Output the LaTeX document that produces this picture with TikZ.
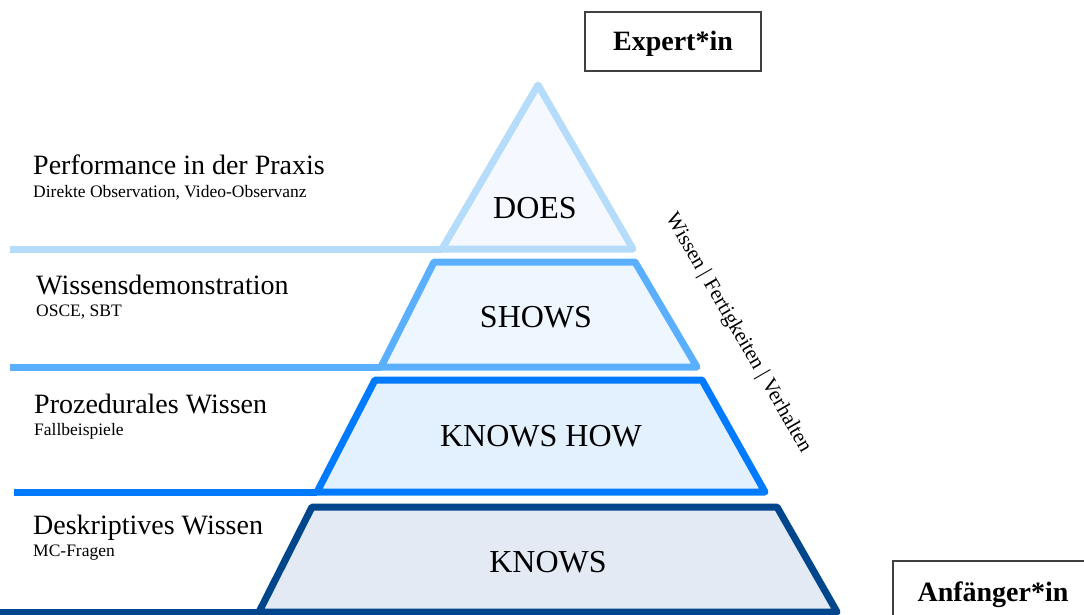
\documentclass[tikz,border=0pt]{standalone}
\usepackage{fontspec}
\setmainfont{Liberation Serif}
\begin{document}
\begin{tikzpicture}[x=1pt,y=-1pt,
  level/.style={line width=7pt,line join=round,line cap=round},
  rule/.style={line width=7pt,line cap=butt},
  head/.style={anchor=base west,inner sep=0pt,font=\fontsize{28}{30}\selectfont},
  sub/.style={anchor=base west,inner sep=0pt,font=\fontsize{17.5}{19}\selectfont},
  tier/.style={anchor=base,inner sep=0pt,font=\fontsize{32}{34}\selectfont},
  tagbox/.style={draw=black!75,line width=1.3pt,inner sep=0pt,text height=19pt,text depth=0pt,
    font=\bfseries\fontsize{28}{30}\selectfont}]
\definecolor{doesC}{RGB}{181,220,250}
\definecolor{doesF}{RGB}{245,249,255}
\definecolor{showsC}{RGB}{90,176,255}
\definecolor{showsF}{RGB}{238,246,255}
\definecolor{howC}{RGB}{0,123,255}
\definecolor{howF}{RGB}{227,240,253}
\definecolor{knowsC}{RGB}{0,70,140}
\definecolor{knowsF}{RGB}{227,234,243}
\useasboundingbox (0,0) rectangle (1084,615);
\fill[white] (0,0) rectangle (1084,615);

% Bottom tier: KNOWS
\draw[rule,knowsC] (0,612) -- (259,612);
\draw[level,draw=knowsC,fill=knowsF] (312,507) -- (777,507) -- (837,612) -- (259,612) -- cycle;
% KNOWS HOW
\draw[rule,howC] (14,492) -- (317,492);
\draw[level,draw=howC,fill=howF] (375,380) -- (702,380) -- (765,492) -- (317,492) -- cycle;
% SHOWS
\draw[rule,showsC] (10,367) -- (381,367);
\draw[level,draw=showsC,fill=showsF] (434,262) -- (635,262) -- (697,367) -- (381,367) -- cycle;
% DOES (apex)
\draw[rule,doesC] (10,249) -- (442,249);
\draw[level,draw=doesC,fill=doesF] (538,85) -- (633,249) -- (442,249) -- cycle;

% Tier labels
\node[tier] (does)  at (535,218) {DOES};
\node[tier] (shows) at (536,327) {SHOWS};
\node[tier] (how)   at (541,446) {KNOWS HOW};
\node[tier] (knows) at (548,572) {KNOWS};

% Descriptions on the left
\node[head] (h1) at (33,175) {Performance in der Praxis};
\node[sub]  (s1) at (33,197) {Direkte Observation, Video-Observanz};
\node[head] (h2) at (36,294) {Wissensdemonstration};
\node[sub]  (s2) at (36,316) {OSCE, SBT};
\node[head] (h3) at (34,413) {Prozedurales Wissen};
\node[sub]  (s3) at (34,435) {Fallbeispiele};
\node[head] (h4) at (33,534) {Deskriptives Wissen};
\node[sub]  (s4) at (33,556) {MC-Fragen};

% Slanted axis text
\node[rotate=-60,inner sep=0pt,font=\fontsize{21}{23}\selectfont] (axis) at (738,333)
  {Wissen | Fertigkeiten | Verhalten};

% Level boxes
\node[tagbox,minimum width=176pt,minimum height=59pt] (expert) at (673,41.5) {Expert*in};
\draw[black!75,line width=1.3pt] (1100,561) -- (893,561) -- (893,625);
\node[anchor=base,inner sep=0pt,font=\bfseries\fontsize{28}{30}\selectfont] (novice) at (993,601) {Anfänger*in};
\end{tikzpicture}
\end{document}
